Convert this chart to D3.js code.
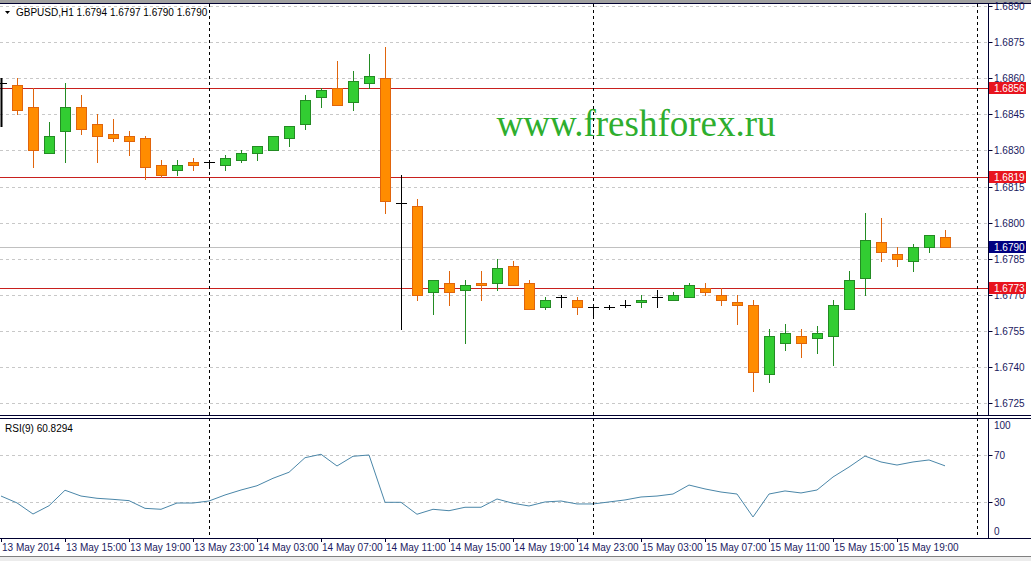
<!DOCTYPE html>
<html><head><meta charset="utf-8">
<script src="https://cdn.jsdelivr.net/npm/d3@7"></script>
<style>body{margin:0;background:#fff;overflow:hidden;} svg{display:block;font-family:"Liberation Sans",Arial,sans-serif;}</style>
</head><body><svg id="c" width="1031" height="561"></svg>
<script>
// ---------------- data ----------------
const symbol = "GBPUSD,H1";
const headerValues = ["1.6794", "1.6797", "1.6790", "1.6790"];
const startHour = [2014, 4, 13, 11]; // 13 May 2014 11:00, hourly bars
const opens  = [1.6858,1.6857,1.6848,1.6829,1.6838,1.6848,1.6841,1.6837,1.6836,1.6835,
                1.6824,1.6822,1.6825,1.6825,1.6824,1.6826,1.6829,1.6830,1.6835,1.6841,
                1.6852,1.6856,1.6850,1.6858,1.6860,1.6808,1.6807,1.6771,1.6775,1.6772,
                1.6775,1.6775,1.6782,1.6775,1.6765,1.6769,1.6768,1.6765,1.6765,1.6766,
                1.6767,1.6769,1.6768,1.6769,1.6773,1.6770,1.6767,1.6766,1.6737,1.6750,
                1.6753,1.6752,1.6753,1.6764,1.6777,1.6792,1.6787,1.6784,1.6790,1.6794];
const highs  = [1.6860,1.6860,1.6856,1.6842,1.6858,1.6853,1.6845,1.6843,1.6838,1.6836,
                1.6826,1.6826,1.6827,1.6826,1.6828,1.6830,1.6832,1.6836,1.6840,1.6853,
                1.6856,1.6867,1.6863,1.6870,1.6873,1.6820,1.6810,1.6776,1.6780,1.6776,
                1.6780,1.6785,1.6784,1.6776,1.6769,1.6770,1.6769,1.6766,1.6766,1.6768,
                1.6770,1.6772,1.6771,1.6775,1.6775,1.6773,1.6770,1.6768,1.6756,1.6758,
                1.6756,1.6757,1.6768,1.6780,1.6804,1.6802,1.6790,1.6791,1.6795,1.6797];
const lows   = [1.6840,1.6845,1.6823,1.6829,1.6825,1.6837,1.6825,1.6834,1.6828,1.6818,
                1.6819,1.6820,1.6822,1.6823,1.6822,1.6825,1.6826,1.6830,1.6832,1.6839,
                1.6848,1.6849,1.6847,1.6856,1.6804,1.6756,1.6768,1.6762,1.6766,1.6750,
                1.6768,1.6772,1.6774,1.6764,1.6764,1.6765,1.6762,1.6761,1.6764,1.6765,
                1.6765,1.6765,1.6768,1.6769,1.6770,1.6766,1.6758,1.6730,1.6734,1.6747,
                1.6744,1.6746,1.6741,1.6764,1.6770,1.6784,1.6782,1.6780,1.6788,1.6790];
const closes = [1.6858,1.6847,1.6830,1.6836,1.6848,1.6839,1.6836,1.6835,1.6834,1.6823,
                1.6820,1.6824,1.6824,1.6825,1.6827,1.6829,1.6832,1.6836,1.6840,1.6851,
                1.6855,1.6849,1.6859,1.6861,1.6809,1.6808,1.6770,1.6776,1.6771,1.6774,
                1.6774,1.6781,1.6774,1.6764,1.6768,1.6769,1.6765,1.6765,1.6765,1.6766,
                1.6768,1.6769,1.6770,1.6774,1.6771,1.6768,1.6766,1.6738,1.6753,1.6754,
                1.6750,1.6754,1.6766,1.6776,1.6793,1.6788,1.6785,1.6790,1.6795,1.6790];
const rsiValues = [35.3,29.5,20.1,27.1,40.2,35.3,33.4,32.5,31.4,24.9,
                   24.1,29.4,29.4,31.1,36.2,40.4,44.0,50.3,55.4,67.7,
                   70.6,60.7,68.9,70.0,30.0,30.0,19.9,24.1,22.9,25.8,
                   25.8,32.8,29.2,26.9,30.3,31.1,28.6,28.6,30.3,32.0,
                   34.5,35.3,37.0,44.6,41.3,38.7,37.0,17.6,37.0,39.6,
                   37.9,40.4,51.4,59.8,69.1,64.1,61.5,64.1,65.8,60.83];
const priceTicks = [1.6725,1.6740,1.6755,1.6770,1.6785,1.6800,1.6815,1.6830,1.6845,1.6860,1.6875,1.6890];
const rsiTicks = [0, 30, 70, 100];
const rsiGrid = [30, 70];
const xTickLabels = ["13 May 2014","13 May 15:00","13 May 19:00","13 May 23:00","14 May 03:00",
                     "14 May 07:00","14 May 11:00","14 May 15:00","14 May 19:00","14 May 23:00",
                     "15 May 03:00","15 May 07:00","15 May 11:00","15 May 15:00","15 May 19:00"];
const levelLines = [1.6856, 1.6819, 1.6773];
const bidPrice = 1.6790;
const rsiLabel = "RSI(9) 60.8294";
const watermark = "www.freshforex.ru";

// ---------------- layout ----------------
const W = 1031, H = 561;
const axisX = 988.5;
const mainTop = 3, mainBottom = 415;
const rsiTop = 418, rsiBottom = 538;
const svg = d3.select("#c");

const t0 = new Date(startHour[0], startHour[1], startHour[2], startHour[3]);
const hour = 3600e3;
const times = opens.map((d, i) => new Date(t0.getTime() + i * hour));
const data = opens.map((o, i) => ({t: times[i], o, h: highs[i], l: lows[i], c: closes[i], r: rsiValues[i]}));

const x = d3.scaleTime().domain([times[0], times[times.length - 1]]).range([1, 945]);
const y = d3.scaleLinear().domain([1.6725, 1.6890]).range([403.2, 6]);
const yr = d3.scaleLinear().domain([0, 100]).range([537.8, 419.5]);
const tEnd = x.invert(axisX);

svg.append("rect").attr("width", W).attr("height", H).attr("fill", "#fff");

// clip paths
svg.append("clipPath").attr("id", "cm").append("rect").attr("x", 0).attr("y", mainTop + 1).attr("width", axisX).attr("height", mainBottom - mainTop - 1);
svg.append("clipPath").attr("id", "cr").append("rect").attr("x", 0).attr("y", rsiTop + 1).attr("width", axisX).attr("height", rsiBottom - rsiTop - 1);

const gridColor = "#c8c8c8";
const gridTimes = d3.timeHour.every(2).range(times[0], tEnd).filter(d => (d - times[0]) % (2 * hour) === 0);
const daySeps = d3.timeDay.range(times[0], tEnd);

// ---- main panel ----
const gm = svg.append("g").attr("clip-path", "url(#cm)");
gm.selectAll(".hg").data(priceTicks).join("line")
  .attr("x1", 0).attr("x2", axisX).attr("y1", d => Math.round(y(d)) + 0.5).attr("y2", d => Math.round(y(d)) + 0.5)
  .attr("stroke", gridColor).attr("stroke-dasharray", "3,3");
gm.selectAll(".vg").data(gridTimes).join("line")
  .attr("x1", d => Math.round(x(d)) + 0.5).attr("x2", d => Math.round(x(d)) + 0.5).attr("y1", mainTop).attr("y2", mainBottom)
  .attr("stroke", gridColor).attr("stroke-dasharray", "3,3");

// watermark
gm.append("text").attr("x", 636).attr("y", 136).attr("text-anchor", "middle")
  .attr("font-family", "'Liberation Serif','Times New Roman',serif").attr("font-size", 37)
  .attr("fill", "#2eae2e").text(watermark);

// bid line
gm.append("line").attr("x1", 0).attr("x2", axisX).attr("y1", Math.round(y(bidPrice)) + 0.5).attr("y2", Math.round(y(bidPrice)) + 0.5)
  .attr("stroke", "#c0c0c0");
// level lines
gm.selectAll(".lv").data(levelLines).join("line")
  .attr("x1", 0).attr("x2", axisX).attr("y1", d => Math.round(y(d)) + 0.5).attr("y2", d => Math.round(y(d)) + 0.5)
  .attr("stroke", "#c8201e");

// candles
const bullFill = "#32cd32", bullLine = "#238b23", bearFill = "#ff8c00", bearLine = "#e0650c";
const cg = gm.selectAll(".cd").data(data).join("g");
cg.append("line")
  .attr("x1", d => Math.round(x(d.t)) + 0.5).attr("x2", d => Math.round(x(d.t)) + 0.5)
  .attr("y1", d => Math.round(y(d.h))).attr("y2", d => Math.round(y(d.l)) + 1)
  .attr("stroke", d => d.c > d.o ? bullLine : d.c < d.o ? bearLine : "#000")
  .attr("stroke-width", (d, i) => i === 0 ? 2 : 1);
cg.filter(d => d.c !== d.o).append("rect")
  .attr("x", d => Math.round(x(d.t)) - 4.5)
  .attr("y", d => Math.round(y(Math.max(d.o, d.c))) + 0.5)
  .attr("width", 10)
  .attr("height", d => Math.max(1, Math.round(y(Math.min(d.o, d.c))) - Math.round(y(Math.max(d.o, d.c)))))
  .attr("fill", d => d.c > d.o ? bullFill : bearFill)
  .attr("stroke", d => d.c > d.o ? bullLine : bearLine);
cg.filter(d => d.c === d.o).append("line")
  .attr("x1", d => Math.round(x(d.t)) - 5).attr("x2", d => Math.round(x(d.t)) + 6)
  .attr("y1", d => Math.round(y(d.o)) + 0.5).attr("y2", d => Math.round(y(d.o)) + 0.5)
  .attr("stroke", "#000");

// header
svg.append("path").attr("d", "M5,11 L10,11 L7.5,14 Z").attr("fill", "#000");
svg.append("text").attr("x", 16).attr("y", 16).attr("font-size", 10).attr("fill", "#000")
  .text(symbol + "  " + headerValues.join(" "));

// ---- RSI panel ----
const gr = svg.append("g").attr("clip-path", "url(#cr)");
gr.selectAll(".hg").data(rsiGrid).join("line")
  .attr("x1", 0).attr("x2", axisX).attr("y1", d => Math.round(yr(d)) + 0.5).attr("y2", d => Math.round(yr(d)) + 0.5)
  .attr("stroke", gridColor).attr("stroke-dasharray", "3,3");
gr.selectAll(".vg").data(gridTimes).join("line")
  .attr("x1", d => Math.round(x(d)) + 0.5).attr("x2", d => Math.round(x(d)) + 0.5).attr("y1", rsiTop).attr("y2", rsiBottom)
  .attr("stroke", gridColor).attr("stroke-dasharray", "3,3");
gr.append("path").datum(data)
  .attr("d", d3.line().x(d => x(d.t)).y(d => yr(d.r)))
  .attr("fill", "none").attr("stroke", "#4a86a8").attr("stroke-width", 1);
svg.append("text").attr("x", 5).attr("y", 432).attr("font-size", 10).attr("fill", "#000").text(rsiLabel);

// day separators (both panels)
svg.selectAll(".ds").data(daySeps).join("line")
  .attr("x1", d => Math.round(x(d)) + 0.5).attr("x2", d => Math.round(x(d)) + 0.5)
  .attr("y1", mainTop + 1).attr("y2", rsiBottom)
  .attr("stroke", "#000").attr("stroke-dasharray", "3,3");

// ---- frames ----
const frame = "#000030";
svg.append("rect").attr("x", 0).attr("y", 0).attr("width", W).attr("height", 3).attr("fill", "#a0a0a0");
[[mainTop, mainBottom], [rsiTop, rsiBottom]].forEach(([t, b]) => {
  svg.append("line").attr("x1", 0).attr("x2", W).attr("y1", t + 0.5).attr("y2", t + 0.5).attr("stroke", frame);
  svg.append("line").attr("x1", 0).attr("x2", W).attr("y1", b + 0.5).attr("y2", b + 0.5).attr("stroke", frame);
});
svg.append("line").attr("x1", axisX).attr("x2", axisX).attr("y1", mainTop).attr("y2", mainBottom).attr("stroke", frame);
svg.append("line").attr("x1", axisX).attr("x2", axisX).attr("y1", rsiTop).attr("y2", rsiBottom).attr("stroke", frame);

// price axis
const labelColor = "#1a1a60";
const ya = svg.append("g");
ya.selectAll(".tk").data(priceTicks).join("line")
  .attr("x1", axisX).attr("x2", axisX + 4).attr("y1", d => Math.round(y(d)) + 0.5).attr("y2", d => Math.round(y(d)) + 0.5)
  .attr("stroke", frame);
ya.selectAll(".tl").data(priceTicks).join("text")
  .attr("x", 994).attr("y", d => y(d) + 4).attr("font-size", 10).attr("fill", labelColor)
  .text(d => d3.format(".4f")(d));
// level & bid boxes
const boxes = levelLines.map(v => ({v, fill: "#e8141e"})).concat([{v: bidPrice, fill: "#000080"}]);
const bx = svg.selectAll(".bx").data(boxes).join("g");
bx.append("rect").attr("x", 989).attr("y", d => Math.round(y(d.v)) - 6).attr("width", 37).attr("height", 12).attr("fill", d => d.fill);
bx.append("text").attr("x", 994).attr("y", d => y(d.v) + 4).attr("font-size", 10).attr("fill", "#fff")
  .text(d => d3.format(".4f")(d.v));

// rsi axis
svg.selectAll(".rtk").data(rsiGrid).join("line")
  .attr("x1", axisX).attr("x2", axisX + 4).attr("y1", d => Math.round(yr(d)) + 0.5).attr("y2", d => Math.round(yr(d)) + 0.5)
  .attr("stroke", frame);
svg.selectAll(".rtl").data(rsiTicks).join("text")
  .attr("x", 994).attr("y", d => d === 100 ? 429 : d === 0 ? 535 : yr(d) + 4)
  .attr("font-size", 10).attr("fill", labelColor).text(d => d);

// time axis
const tickTimes = xTickLabels.map((s, k) => times[4 * k]);
svg.selectAll(".xt").data(tickTimes).join("line")
  .attr("x1", d => Math.round(x(d)) + 0.5).attr("x2", d => Math.round(x(d)) + 0.5)
  .attr("y1", rsiBottom).attr("y2", rsiBottom + 4).attr("stroke", frame);
svg.selectAll(".xl").data(xTickLabels).join("text")
  .attr("x", (d, k) => x(tickTimes[k]) + 1).attr("y", 551).attr("font-size", 10).attr("fill", labelColor)
  .text(d => d);

// bottom tabs strip
svg.append("rect").attr("x", 0).attr("y", 556).attr("width", W).attr("height", 5).attr("fill", "#ececec");
svg.append("line").attr("x1", 0).attr("x2", W).attr("y1", 556.5).attr("y2", 556.5).attr("stroke", "#808080");
</script></body></html>
